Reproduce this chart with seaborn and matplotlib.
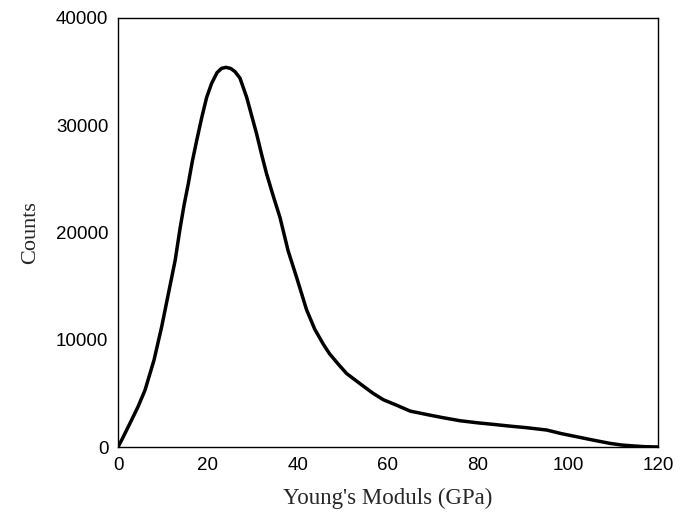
import matplotlib
matplotlib.use("Agg")
import matplotlib.pyplot as plt
import seaborn as sns
import pandas as pd

modulus_gpa = [0, 1, 3, 4.5, 6, 8, 9.7, 11.2, 12.7, 13.8, 14.7, 15.6, 16.5, 17.5,
               18.6, 19.7, 20.8, 22, 23, 24, 25, 26, 27.1, 28.6, 30.8, 31.9,
               33, 34.5, 36, 37.8, 39.7, 41.9, 43.7, 45.6, 47, 49, 50.8, 53.8,
               56.7, 59, 61.9, 64.9, 68.6, 72, 76, 80, 83.4, 87, 90.8, 95.3,
               98.5, 101.9, 105.5, 109.3, 112, 114.5, 117, 120]
counts = [0, 800, 2500, 3800, 5300, 8100, 11200, 14300, 17400, 20400, 22600,
          24500, 26600, 28600, 30700, 32600, 33900, 34900, 35300, 35400, 35300,
          35000, 34400, 32600, 29200, 27300, 25500, 23400, 21400, 18300, 15800,
          12800, 11000, 9600, 8700, 7700, 6850, 5900, 5000, 4400, 3900, 3350,
          3030, 2750, 2450, 2250, 2110, 1950, 1800, 1580, 1250, 960, 650, 340,
          180, 100, 30, 0]
x_ticks = [0, 20, 40, 60, 80, 100, 120]
y_ticks = [0, 10000, 20000, 30000, 40000]

df = pd.DataFrame({"x": modulus_gpa, "y": counts})

sns.set_style("white")
fig = plt.figure(figsize=(6.88, 5.13), dpi=100)
ax = fig.add_axes([118/688, 1-447/513, (658-118)/688, (447-18)/513])
sns.lineplot(data=df, x="x", y="y", ax=ax, color="black", linewidth=2.5)

ax.set_xlim(0, 120)
ax.set_ylim(0, 40000)
ax.set_xticks(x_ticks)
ax.set_yticks(y_ticks)
ax.set_xticklabels([str(t) for t in x_ticks], family="Liberation Sans", fontsize=13.5)
ax.set_yticklabels([str(t) for t in y_ticks], family="Liberation Sans", fontsize=13.5)
ax.tick_params(length=0, pad=7, colors="black")
for s in ax.spines.values():
    s.set_color("black")
    s.set_linewidth(1.0)
ax.set_xlabel("Young's Moduls (GPa)", family="Liberation Serif", fontsize=16.5, labelpad=10)
ax.set_ylabel("Counts", family="Liberation Serif", fontsize=16, labelpad=11)
fig.savefig("out.png", dpi=100)
